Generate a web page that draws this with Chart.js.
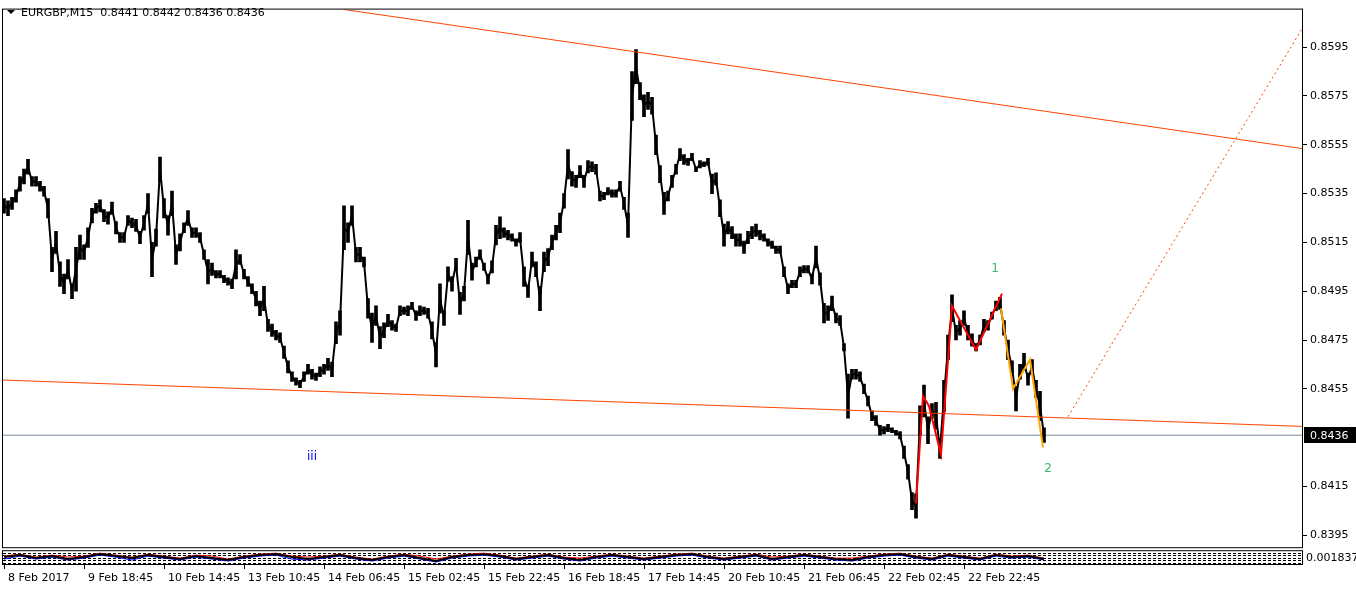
<!DOCTYPE html>
<html>
<head>
  <meta charset="UTF-8">
  <title>EURGBP,M15</title>
  <script src="https://cdn.jsdelivr.net/npm/chart.js"></script>
  <style>
    body { margin: 0; background: #fff; }
    canvas { display: block; }
  </style>
</head>
<body>
  <canvas id="chart" width="1356" height="590"></canvas>

  <script>
    // Header of the chart window
    const symbol = "EURGBP,M15";
    const ohlc = [0.8441, 0.8442, 0.8436, 0.8436];
    const lastPrice = 0.8436;

    // Closes, one value every 4 M15 bars (x axis is counted in bars)
    const closes = [
      0.8530, 0.8529, 0.8531, 0.8534, 0.8539, 0.8542, 0.8546, 0.8540, 0.8540, 0.8538, 0.8536, 0.8529, 0.8508, 0.8515, 0.8502, 0.8498, 0.8504, 0.8495, 0.8504, 0.8513,
      0.8511, 0.8517, 0.8526, 0.8529, 0.8530, 0.8526, 0.8525, 0.8529, 0.8521, 0.8517, 0.8517, 0.8524, 0.8523, 0.8522, 0.8517, 0.8523, 0.8531, 0.8508, 0.8517, 0.8545,
      0.8529, 0.8522, 0.8531, 0.8510, 0.8515, 0.8521, 0.8525, 0.8519, 0.8519, 0.8517, 0.8510, 0.8503, 0.8504, 0.8502, 0.8502, 0.8500, 0.8499, 0.8498, 0.8506, 0.8508,
      0.8502, 0.8499, 0.8496, 0.8492, 0.8488, 0.8492, 0.8481, 0.8479, 0.8477, 0.8476, 0.8470, 0.8464, 0.8460, 0.8458, 0.8457, 0.8460, 0.8463, 0.8461, 0.8460, 0.8462,
      0.8463, 0.8465, 0.8463, 0.8478, 0.8482, 0.8521, 0.8519, 0.8526, 0.8510, 0.8510, 0.8507, 0.8488, 0.8480, 0.8485, 0.8476, 0.8479, 0.8483, 0.8481, 0.8480, 0.8487,
      0.8487, 0.8487, 0.8489, 0.8485, 0.8487, 0.8487, 0.8486, 0.8479, 0.8469, 0.8492, 0.8484, 0.8502, 0.8498, 0.8506, 0.8490, 0.8494, 0.8517, 0.8503, 0.8507, 0.8510,
      0.8505, 0.8500, 0.8505, 0.8518, 0.8521, 0.8519, 0.8518, 0.8517, 0.8515, 0.8517, 0.8501, 0.8495, 0.8508, 0.8504, 0.8492, 0.8507, 0.8509, 0.8515, 0.8519, 0.8523,
      0.8532, 0.8547, 0.8541, 0.8540, 0.8544, 0.8540, 0.8546, 0.8546, 0.8545, 0.8534, 0.8534, 0.8536, 0.8535, 0.8535, 0.8538, 0.8531, 0.8522, 0.8575, 0.8587, 0.8577,
      0.8571, 0.8573, 0.8571, 0.8555, 0.8543, 0.8531, 0.8534, 0.8540, 0.8545, 0.8551, 0.8549, 0.8548, 0.8550, 0.8545, 0.8547, 0.8547, 0.8548, 0.8539, 0.8541, 0.8529,
      0.8518, 0.8521, 0.8519, 0.8516, 0.8516, 0.8513, 0.8517, 0.8519, 0.8520, 0.8518, 0.8517, 0.8515, 0.8514, 0.8512, 0.8512, 0.8503, 0.8496, 0.8498, 0.8498, 0.8503,
      0.8504, 0.8504, 0.8500, 0.8509, 0.8500, 0.8486, 0.8486, 0.8490, 0.8484, 0.8483, 0.8472, 0.8452, 0.8461, 0.8461, 0.8460, 0.8455, 0.8450, 0.8444, 0.8442, 0.8438,
      0.8438, 0.8439, 0.8438, 0.8437, 0.8436, 0.8429, 0.8421, 0.8409, 0.8407, 0.8442, 0.8450, 0.8438, 0.8446, 0.8444, 0.8430, 0.8452, 0.8472, 0.8488, 0.8478, 0.8480,
      0.8484, 0.8478, 0.8475, 0.8472, 0.8475, 0.8481, 0.8481, 0.8485, 0.8489, 0.8490, 0.8480, 0.8471, 0.8464, 0.8451, 0.8462, 0.8466, 0.8459, 0.8464, 0.8455, 0.8448, 0.8436
    ];

    // High-low range of each 4-bar group, in pips
    const ranges = [
      6, 6, 5, 5, 6, 6, 6, 4, 4, 4, 4, 8, 10, 9, 10, 8, 8, 6, 18, 10,
      6, 8, 6, 4, 5, 5, 5, 5, 5, 4, 4, 4, 4, 5, 5, 6, 8, 14, 7, 10,
      8, 8, 10, 8, 7, 4, 6, 4, 4, 4, 4, 10, 5, 3, 3, 3, 3, 4, 12, 4,
      4, 4, 4, 6, 6, 10, 5, 5, 4, 4, 5, 5, 4, 3, 3, 4, 4, 4, 3, 4,
      4, 5, 6, 9, 10, 18, 8, 8, 6, 6, 4, 8, 12, 8, 9, 6, 5, 4, 3, 4,
      3, 4, 3, 4, 4, 3, 4, 7, 10, 12, 6, 6, 6, 5, 9, 6, 14, 7, 4, 4,
      3, 4, 5, 8, 9, 4, 4, 3, 3, 4, 8, 5, 6, 6, 10, 8, 7, 6, 6, 8,
      6, 12, 6, 5, 5, 5, 5, 4, 4, 4, 3, 3, 3, 3, 4, 5, 10, 20, 14, 7,
      9, 7, 7, 8, 7, 9, 4, 5, 4, 5, 4, 3, 3, 2, 3, 2, 3, 8, 5, 7,
      9, 5, 5, 5, 5, 5, 5, 5, 5, 4, 3, 3, 3, 3, 3, 4, 4, 3, 3, 4,
      3, 3, 4, 9, 5, 8, 6, 6, 4, 4, 3, 18, 4, 4, 4, 4, 4, 4, 4, 4,
      3, 3, 2, 2, 3, 5, 6, 7, 10, 12, 13, 11, 6, 11, 7, 13, 10, 11, 6, 6,
      6, 6, 5, 3, 4, 5, 4, 3, 4, 5, 6, 8, 5, 10, 6, 7, 5, 6, 7, 12, 6
    ];

    // Time labels, one every 80 bars
    const timeLabels = [
      "8 Feb 2017", "9 Feb 18:45", "10 Feb 14:45", "13 Feb 10:45", "14 Feb 06:45",
      "15 Feb 02:45", "15 Feb 22:45", "16 Feb 18:45", "17 Feb 14:45", "20 Feb 10:45",
      "21 Feb 06:45", "22 Feb 02:45", "22 Feb 22:45"
    ];

    // Price scale labels (0.8435 is covered by the current price tag)
    const priceTicks = [0.8395, 0.8415, 0.8455, 0.8475, 0.8495, 0.8515, 0.8535, 0.8555, 0.8575, 0.8595];

    // Trend lines: [bar, price]
    const upperTrend = [[340, 0.86105], [1300, 0.85534]];
    const lowerTrend = [[0, 0.84586], [1300, 0.84396]];
    const projection = [[1065, 0.84436], [1300, 0.86032]];

    // Wave markup: [bar, price]
    const redWave = [[913, 0.8408], [920, 0.8452], [926, 0.8448], [938, 0.8428], [949, 0.8489], [973, 0.8471], [999, 0.8494]];
    const orangeWave = [[998, 0.8488], [1010, 0.8455], [1027, 0.8467], [1040, 0.8431]];

    // Wave labels: [text, bar, price]
    const waveLabels = [["1", 992, 0.8504], ["2", 1045, 0.8422], ["iii", 309, 0.8427]];

    // Indicator sub window, one value every 16 bars
    const subBlack = [8,10,7,9,6,8,11,9,7,10,8,6,9,7,5,8,10,11,8,6,8,10,7,5,8,10,7,4,8,10,11,9,6,8,10,7,5,8,10,8,6,8,10,11,8,6,8,10,6,8,10,8,6,5,8,10,11,8,6,10,8,6,10,8,9,6];
    const subRed   = [9,11,8,10,8,9,12,10,8,11,9,7,10,9,6,9,11,12,9,8,9,11,8,6,9,11,9,6,9,11,12,10,7,9,11,8,7,9,11,9,7,9,11,12,9,7,9,11,8,9,11,9,7,7,9,11,12,9,7,11,9,7,11,9,10,7];
    const subBlue  = [6,9,6,8,5,7,10,8,5,9,7,5,8,6,4,7,9,10,6,5,7,9,6,4,7,9,6,3,7,9,10,8,5,7,9,6,4,7,9,7,5,7,9,10,7,5,7,9,5,7,9,7,5,4,7,9,10,7,5,9,7,5,9,7,8,5];
    const subLevels = [2.5, 5, 7.5, 10, 12.5];

    const toPts = arr => arr.map(p => ({ x: p[0], y: p[1] }));

    Chart.defaults.font.family = "DejaVu Sans";
    Chart.defaults.font.size = 11;
    Chart.defaults.color = "#000";

    // borders, sub window grid, price tag, labels
    const overlay = {
      id: "overlay",
      beforeDatasetsDraw(chart) {
        const { ctx, chartArea, scales } = chart;
        ctx.save();
        ctx.strokeStyle = "#000";
        ctx.lineWidth = 1;
        ctx.setLineDash([3, 2]);
        subLevels.forEach(v => {
          const py = Math.round(scales.y2.getPixelForValue(v)) + 0.5;
          ctx.beginPath();
          ctx.moveTo(chartArea.left, py);
          ctx.lineTo(chartArea.right, py);
          ctx.stroke();
        });
        ctx.restore();
      },
      afterDraw(chart) {
        const { ctx, chartArea, scales } = chart;
        const y = scales.y, y2 = scales.y2, x = scales.x;
        ctx.save();
        ctx.strokeStyle = "#000";
        ctx.lineWidth = 1;
        ctx.strokeRect(chartArea.left - 0.5, y.top - 0.5, chartArea.right - chartArea.left, y.bottom - y.top);
        ctx.strokeRect(chartArea.left - 0.5, y2.top + 2.5, chartArea.right - chartArea.left, y2.bottom - y2.top - 3);

        // current price tag
        const py = Math.round(y.getPixelForValue(lastPrice));
        ctx.fillStyle = "#000";
        ctx.fillRect(chartArea.right + 1, py - 8, 52, 16);
        ctx.fillStyle = "#fff";
        ctx.textBaseline = "middle";
        ctx.textAlign = "left";
        ctx.font = "11px DejaVu Sans";
        ctx.fillText(lastPrice.toFixed(4), chartArea.right + 7, py + 1);

        // sub window scale text
        ctx.fillStyle = "#000";
        ctx.fillText("0.001837", chartArea.right + 3, (y2.top + y2.bottom) / 2 + 2);

        // header
        ctx.beginPath();
        ctx.moveTo(chartArea.left + 4, 10);
        ctx.lineTo(chartArea.left + 12, 10);
        ctx.lineTo(chartArea.left + 8, 14);
        ctx.closePath();
        ctx.fill();
        ctx.fillText(symbol + "  " + ohlc.map(v => v.toFixed(4)).join(" "), chartArea.left + 18, 13);

        // wave labels
        ctx.textAlign = "center";
        ctx.font = "12px DejaVu Sans";
        waveLabels.forEach(l => {
          ctx.fillStyle = l[0] === "iii" ? "#0000ff" : "#3cb371";
          ctx.fillText(l[0], x.getPixelForValue(l[1]), y.getPixelForValue(l[2]));
        });
        ctx.restore();
      }
    };

    new Chart(document.getElementById("chart").getContext("2d"), {
      type: "line",
      data: {
        datasets: [
          { data: toPts(redWave), borderColor: "#ff0000", borderWidth: 2, yAxisID: "y", order: 0 },
          { data: toPts(orangeWave), borderColor: "#ffa500", borderWidth: 2, yAxisID: "y", order: 0 },
          { data: toPts(upperTrend), borderColor: "#ff4500", borderWidth: 1, yAxisID: "y", order: 1 },
          { data: toPts(lowerTrend), borderColor: "#ff4500", borderWidth: 1, yAxisID: "y", order: 1 },
          { data: toPts(projection), borderColor: "#ff4500", borderWidth: 1, borderDash: [2, 3], yAxisID: "y", order: 1 },
          {
            type: "bar",
            data: closes.map((v, i) => ({ x: 1 + 4 * i, y: [v - ranges[i] / 20000, v + ranges[i] / 20000] })),
            backgroundColor: "#000",
            borderWidth: 0,
            barThickness: 3,
            yAxisID: "y",
            order: 2
          },
          { data: closes.map((v, i) => ({ x: 1 + 4 * i, y: v })), borderColor: "#000", borderWidth: 2, yAxisID: "y", order: 2 },
          { data: [{ x: 0, y: lastPrice }, { x: 1300, y: lastPrice }], borderColor: "#778899", borderWidth: 1, yAxisID: "y", order: 3 },
          { data: subBlack.map((v, i) => ({ x: 1 + 16 * i, y: v })), borderColor: "#000", borderWidth: 2, yAxisID: "y2", order: 4 },
          { data: subRed.map((v, i) => ({ x: 1 + 16 * i, y: v })), borderColor: "#ff0000", borderWidth: 1, yAxisID: "y2", order: 5 },
          { data: subBlue.map((v, i) => ({ x: 1 + 16 * i, y: v })), borderColor: "#0000ff", borderWidth: 1, yAxisID: "y2", order: 5 }
        ]
      },
      options: {
        responsive: false,
        animation: false,
        elements: { point: { radius: 0 }, line: { tension: 0 } },
        layout: { padding: { left: 3, top: 3, right: 0, bottom: 0 } },
        plugins: { legend: { display: false }, tooltip: { enabled: false } },
        scales: {
          x: {
            type: "linear",
            min: 0,
            max: 1300,
            offset: false,
            afterBuildTicks: s => { s.ticks = timeLabels.map((t, i) => ({ value: 1 + 80 * i })); },
            afterFit: s => { s.height = 25; },
            ticks: {
              autoSkip: false,
              maxRotation: 0,
              align: "start",
              labelOffset: 4,
              padding: 3,
              callback: (v, i) => timeLabels[i]
            },
            grid: { drawOnChartArea: false, tickLength: 4, color: "#000", offset: false },
            border: { display: false }
          },
          y: {
            position: "right",
            stack: "pane",
            stackWeight: 545,
            min: 0.83897,
            max: 0.86104,
            afterBuildTicks: s => { s.ticks = priceTicks.map(v => ({ value: v })); },
            afterFit: s => { s.width = 53; },
            ticks: { padding: 3, callback: v => v.toFixed(4) },
            grid: { drawOnChartArea: false, tickLength: 4, color: "#000" },
            border: { display: false }
          },
          y2: {
            position: "right",
            stack: "pane",
            stackWeight: 17,
            min: 0,
            max: 17,
            afterFit: s => { s.width = 53; },
            ticks: { display: false },
            grid: { display: false },
            border: { display: false }
          }
        }
      },
      plugins: [overlay]
    });
  </script>
</body>
</html>
